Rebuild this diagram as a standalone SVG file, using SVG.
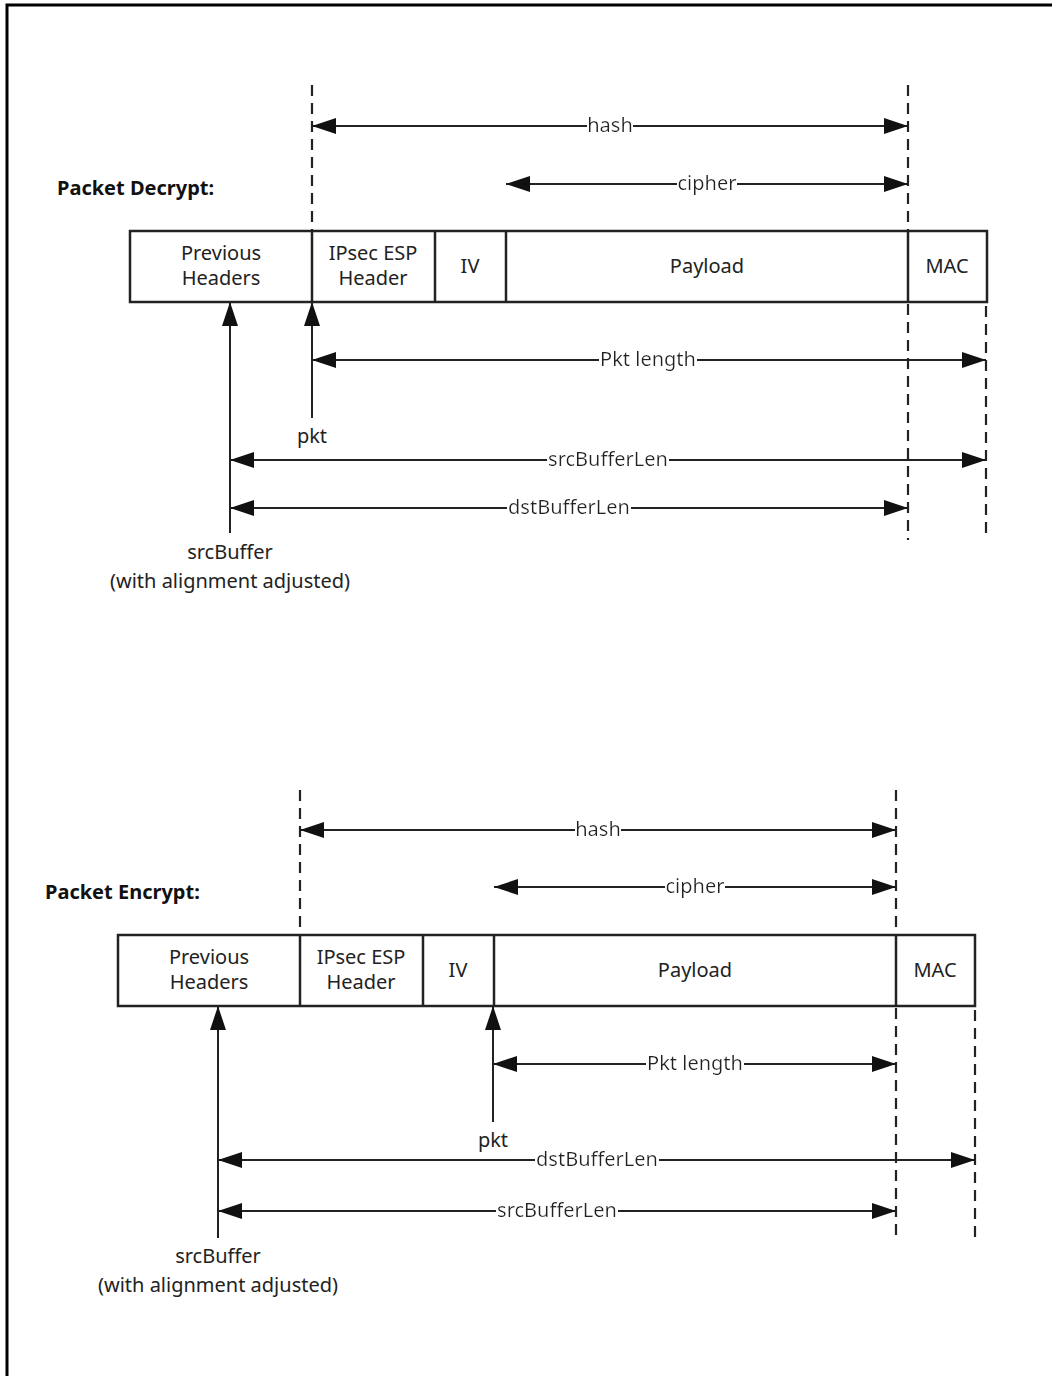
<svg xmlns="http://www.w3.org/2000/svg" width="1052" height="1376" viewBox="0 0 1052 1376">
<style>
  .t { font-family: "Noto Sans", "Open Sans", sans-serif; font-size: 20px; fill: #222; text-anchor: middle; }
  .lbl { filter: url(#bg); }
  .title { font-family: "Noto Sans", "Open Sans", sans-serif; font-size: 20px; font-weight: bold; fill: #111; }
  .box { fill: #fff; stroke: #222; stroke-width: 2.5; }
  .div { stroke: #222; stroke-width: 2.5; }
  .dash { stroke: #222; stroke-width: 2.2; stroke-dasharray: 11 7; fill: none; }
  .dim { stroke: #222; stroke-width: 2; fill: none; marker-start: url(#ah); marker-end: url(#ah); }
  .up { stroke: #222; stroke-width: 2; fill: none; marker-end: url(#ah); }
</style>
<defs>
  <marker id="ah" markerUnits="userSpaceOnUse" viewBox="0 0 24 16" refX="24" refY="8" markerWidth="24" markerHeight="16" orient="auto-start-reverse">
    <path d="M0,0 L24,8 L0,16 Z" fill="#111"/>
  </marker>
  <filter id="bg" x="-0.005" y="-0.05" width="1.01" height="1.1">
    <feFlood flood-color="#fff"/>
    <feComposite in="SourceGraphic"/>
  </filter>
</defs>
<rect width="1052" height="1376" fill="#fff"/>
<g id="frame">
  <path d="M7,1376 L7,5 L1052,5" fill="none" stroke="#000" stroke-width="3"/>
</g>

<g id="decrypt">
  <text class="title" x="57" y="195">Packet Decrypt:</text>
  <g id="d-guides">
    <line class="dash" x1="312" y1="85" x2="312" y2="231"/>
    <line class="dash" x1="908" y1="85" x2="908" y2="231"/>
    <line class="dash" x1="908" y1="304" x2="908" y2="540"/>
    <line class="dash" x1="986" y1="306" x2="986" y2="540"/>
  </g>
  <g id="d-packet">
    <rect class="box" x="130" y="231" width="857" height="71"/>
    <line class="div" x1="312" y1="231" x2="312" y2="302"/>
    <line class="div" x1="435" y1="231" x2="435" y2="302"/>
    <line class="div" x1="506" y1="231" x2="506" y2="302"/>
    <line class="div" x1="908" y1="231" x2="908" y2="302"/>
    <text class="t" x="221" y="260">Previous</text>
    <text class="t" x="221" y="285">Headers</text>
    <text class="t" x="373" y="260">IPsec ESP</text>
    <text class="t" x="373" y="285">Header</text>
    <text class="t" x="470" y="273">IV</text>
    <text class="t" x="707" y="273">Payload</text>
    <text class="t" x="947" y="273">MAC</text>
  </g>
  <g id="d-connectors">
    <line class="dim" x1="312" y1="126" x2="908" y2="126"/>
    <line class="dim" x1="506" y1="184" x2="908" y2="184"/>
    <line class="dim" x1="312" y1="360" x2="986" y2="360"/>
    <line class="dim" x1="230" y1="460" x2="986" y2="460"/>
    <line class="dim" x1="230" y1="508" x2="908" y2="508"/>
    <line class="up" x1="230" y1="533" x2="230" y2="302"/>
    <line class="up" x1="312" y1="418" x2="312" y2="302"/>
  </g>
  <g id="d-labels">
    <text class="t lbl" x="610" y="132">hash</text>
    <text class="t lbl" x="707" y="190">cipher</text>
    <text class="t lbl" x="648" y="366">Pkt length</text>
    <text class="t lbl" x="608" y="466">srcBufferLen</text>
    <text class="t lbl" x="569" y="514">dstBufferLen</text>
    <text class="t" x="312" y="443">pkt</text>
    <text class="t" x="230" y="559">srcBuffer</text>
    <text class="t" x="230" y="588">(with alignment adjusted)</text>
  </g>
</g>

<g id="encrypt">
  <text class="title" x="45" y="899">Packet Encrypt:</text>
  <g id="e-guides">
    <line class="dash" x1="300" y1="790" x2="300" y2="935"/>
    <line class="dash" x1="896" y1="790" x2="896" y2="935"/>
    <line class="dash" x1="896" y1="1008" x2="896" y2="1242"/>
    <line class="dash" x1="975" y1="1010" x2="975" y2="1240"/>
  </g>
  <g id="e-packet">
    <rect class="box" x="118" y="935" width="857" height="71"/>
    <line class="div" x1="300" y1="935" x2="300" y2="1006"/>
    <line class="div" x1="423" y1="935" x2="423" y2="1006"/>
    <line class="div" x1="494" y1="935" x2="494" y2="1006"/>
    <line class="div" x1="896" y1="935" x2="896" y2="1006"/>
    <text class="t" x="209" y="964">Previous</text>
    <text class="t" x="209" y="989">Headers</text>
    <text class="t" x="361" y="964">IPsec ESP</text>
    <text class="t" x="361" y="989">Header</text>
    <text class="t" x="458" y="977">IV</text>
    <text class="t" x="695" y="977">Payload</text>
    <text class="t" x="935" y="977">MAC</text>
  </g>
  <g id="e-connectors">
    <line class="dim" x1="300" y1="830" x2="896" y2="830"/>
    <line class="dim" x1="494" y1="887" x2="896" y2="887"/>
    <line class="dim" x1="493" y1="1064" x2="896" y2="1064"/>
    <line class="dim" x1="218" y1="1160" x2="975" y2="1160"/>
    <line class="dim" x1="218" y1="1211" x2="896" y2="1211"/>
    <line class="up" x1="218" y1="1238" x2="218" y2="1006"/>
    <line class="up" x1="493" y1="1122" x2="493" y2="1006"/>
  </g>
  <g id="e-labels">
    <text class="t lbl" x="598" y="836">hash</text>
    <text class="t lbl" x="695" y="893">cipher</text>
    <text class="t lbl" x="695" y="1070">Pkt length</text>
    <text class="t lbl" x="597" y="1166">dstBufferLen</text>
    <text class="t lbl" x="557" y="1217">srcBufferLen</text>
    <text class="t" x="493" y="1147">pkt</text>
    <text class="t" x="218" y="1263">srcBuffer</text>
    <text class="t" x="218" y="1292">(with alignment adjusted)</text>
  </g>
</g>
</svg>
